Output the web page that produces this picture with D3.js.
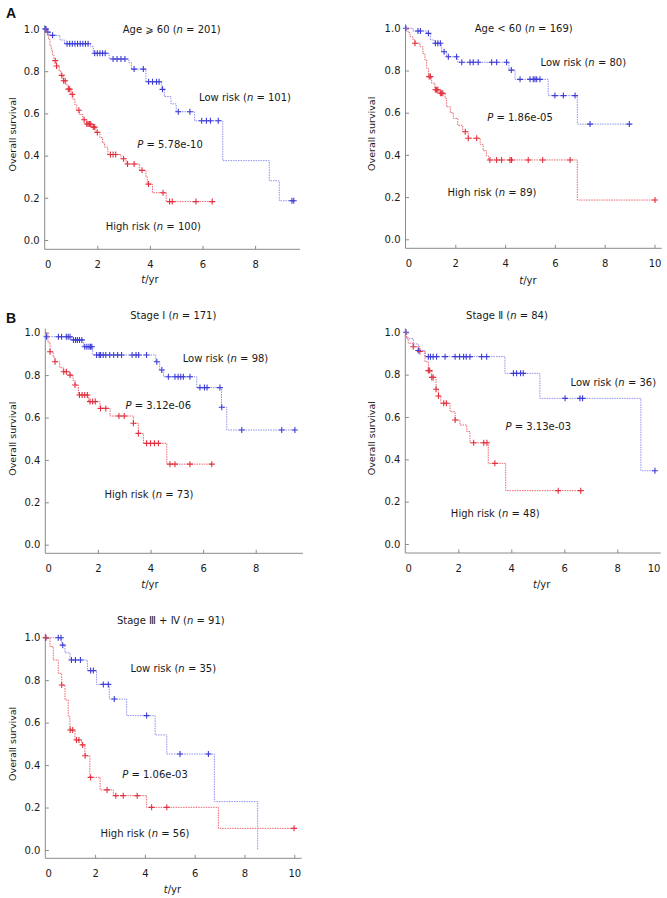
<!DOCTYPE html>
<html><head><meta charset="utf-8">
<script src="https://cdn.jsdelivr.net/npm/d3@7"></script>
<style>body{margin:0;background:#fff}</style>
</head><body>
<svg id="c" width="667" height="898"></svg>
<script>
// ---------------- DATA ----------------
const yTicks = [0, 0.2, 0.4, 0.6, 0.8, 1.0];
const xTicks8 = [0, 2, 4, 6, 8];
const xTicks10 = [0, 2, 4, 6, 8, 10];

const titles = ["Age ⩾ 60 (*n* = 201)", "Age < 60 (*n* = 169)", "Stage Ⅰ (*n* = 171)", "Stage Ⅱ (*n* = 84)", "Stage Ⅲ + Ⅳ (*n* = 91)"];
const lowLabels = ["Low risk (*n* = 101)", "Low risk (*n* = 80)", "Low risk (*n* = 98)", "Low risk (*n* = 36)", "Low risk (*n* = 35)"];
const highLabels = ["High risk (*n* = 100)", "High risk (*n* = 89)", "High risk (*n* = 73)", "High risk (*n* = 48)", "High risk (*n* = 56)"];
const pLabels = ["*P* = 5.78e-10", "*P* = 1.86e-05", "*P* = 3.12e-06", "*P* = 3.13e-03", "*P* = 1.06e-03"];

// steps: [time, survival after drop]; censored: times of "+" marks; end: last follow-up time
const p1LowSteps = [[0.08,0.985],[0.2,0.97],[0.58,0.948],[0.75,0.93],[1.75,0.916],[1.85,0.885],[2.45,0.858],[3.2,0.84],[3.3,0.81],[3.85,0.75],[4.45,0.714],[4.55,0.68],[4.8,0.645],[5.0,0.608],[5.7,0.565],[6.77,0.376],[8.54,0.281],[8.92,0.186]];
const p1LowCens = [0.02,0.05,0.12,0.3,0.85,0.95,1.05,1.15,1.25,1.35,1.45,1.55,1.65,1.9,2.0,2.1,2.2,2.3,2.6,2.75,2.9,3.05,3.4,3.75,3.95,4.1,4.25,4.35,4.48,5.08,5.52,5.97,6.15,6.3,6.6,9.4,9.47];
const p1LowEnd = 9.47;
const p1HighSteps = [[0.05,0.985],[0.1,0.97],[0.15,0.95],[0.2,0.92],[0.25,0.9],[0.3,0.875],[0.35,0.85],[0.45,0.825],[0.55,0.8],[0.62,0.78],[0.7,0.755],[0.8,0.735],[0.9,0.715],[1.0,0.69],[1.08,0.665],[1.15,0.64],[1.22,0.615],[1.32,0.595],[1.45,0.57],[1.6,0.55],[1.8,0.535],[1.95,0.51],[2.1,0.485],[2.2,0.46],[2.28,0.44],[2.4,0.405],[2.9,0.385],[3.1,0.36],[3.6,0.33],[3.85,0.3],[3.9,0.265],[4.1,0.224],[4.62,0.182]];
const p1HighCens = [0.4,0.45,0.65,0.72,0.78,0.9,0.95,1.05,1.3,1.5,1.6,1.65,1.7,1.75,1.85,1.9,2.0,2.5,2.6,2.7,3.0,3.15,3.4,3.7,3.95,4.5,4.75,4.85,5.75,6.37];
const p1HighEnd = 6.37;

const p2LowSteps = [[0.3,0.987],[0.85,0.976],[1.0,0.945],[1.15,0.929],[1.45,0.889],[1.65,0.865],[2.1,0.839],[4.15,0.802],[4.4,0.758],[5.73,0.681],[6.9,0.546]];
const p2LowCens = [0.02,0.5,0.6,0.92,1.2,1.3,1.4,1.55,1.72,2.05,2.26,2.59,2.72,2.92,3.46,3.66,4.06,4.25,4.6,5.0,5.13,5.2,5.27,5.4,6.0,6.34,6.81,7.41,8.99];
const p2LowEnd = 8.99;
const p2HighSteps = [[0.1,0.98],[0.18,0.96],[0.3,0.945],[0.38,0.929],[0.58,0.913],[0.7,0.88],[0.78,0.85],[0.85,0.81],[0.92,0.771],[1.05,0.74],[1.18,0.709],[1.39,0.692],[1.59,0.668],[1.65,0.628],[1.8,0.6],[1.92,0.573],[2.1,0.54],[2.3,0.51],[2.52,0.479],[3.0,0.45],[3.12,0.42],[3.25,0.395],[3.33,0.376],[6.9,0.186]];
const p2HighCens = [0.38,0.95,1.0,1.2,1.25,1.3,1.4,1.45,1.5,2.4,2.52,2.86,3.39,3.66,3.86,4.2,4.26,4.93,5.51,6.61,10.02];
const p2HighEnd = 10.02;

const p3LowSteps = [[0.03,0.981],[1.0,0.966],[1.45,0.934],[1.8,0.895],[4.2,0.863],[4.35,0.824],[4.5,0.792],[5.76,0.741],[6.7,0.648],[6.9,0.541]];
const p3LowCens = [0.05,0.5,0.62,0.8,0.87,0.94,1.07,1.15,1.22,1.3,1.39,1.5,1.58,1.66,1.72,1.77,1.95,2.05,2.1,2.2,2.3,2.45,2.6,2.75,2.9,3.3,3.45,3.55,3.85,4.24,4.43,4.68,4.93,5.05,5.15,5.25,5.5,5.88,6.05,6.15,6.64,6.71,7.47,8.99,9.49];
const p3LowEnd = 9.49;
const p3HighSteps = [[0.1,0.955],[0.18,0.91],[0.3,0.885],[0.37,0.863],[0.55,0.835],[0.68,0.816],[0.94,0.8],[1.05,0.775],[1.13,0.753],[1.26,0.706],[1.64,0.675],[2.08,0.643],[2.46,0.607],[3.35,0.573],[3.54,0.525],[3.73,0.478],[4.62,0.38]];
const p3HighCens = [0.18,0.37,0.7,0.8,0.94,1.13,1.3,1.4,1.5,1.6,1.7,1.8,1.9,2.1,2.3,2.8,3.0,3.35,3.54,3.85,4.0,4.15,4.3,4.74,4.93,5.5,6.33];
const p3HighEnd = 6.33;

const p4LowSteps = [[0.05,0.97],[0.3,0.945],[0.49,0.914],[0.75,0.885],[3.76,0.806],[5.08,0.688],[8.89,0.346]];
const p4LowCens = [0.03,0.49,0.87,0.95,1.05,1.18,1.5,1.88,2.05,2.2,2.3,2.44,2.88,3.07,4.08,4.2,4.35,4.45,6.03,6.59,6.69,9.42];
const p4LowEnd = 9.42;
const p4HighSteps = [[0.05,0.975],[0.11,0.948],[0.3,0.932],[0.55,0.909],[0.74,0.861],[0.87,0.819],[1.0,0.787],[1.16,0.731],[1.25,0.699],[1.34,0.665],[1.69,0.625],[1.88,0.586],[2.06,0.562],[2.32,0.531],[2.44,0.478],[3.13,0.381],[3.79,0.252]];
const p4HighCens = [0.3,0.55,0.87,0.92,1.0,1.05,1.16,1.25,1.45,1.55,1.88,2.58,2.96,3.08,3.38,5.77,6.62];
const p4HighEnd = 6.62;

const p5LowSteps = [[0.66,0.965],[0.79,0.929],[0.99,0.895],[1.69,0.845],[2.06,0.78],[2.57,0.711],[3.27,0.633],[4.41,0.542],[4.88,0.452],[6.79,0.228],[8.53,0]];
const p5LowCens = [0.02,0.52,0.63,0.7,1.05,1.21,1.41,1.82,1.93,2.33,2.53,2.77,4.07,5.41,6.55];
const p5LowEnd = 8.53;
const p5HighSteps = [[0.19,0.958],[0.32,0.895],[0.52,0.832],[0.66,0.777],[0.79,0.707],[0.92,0.628],[0.99,0.565],[1.19,0.518],[1.46,0.495],[1.59,0.444],[1.79,0.342],[2.2,0.283],[2.73,0.256],[4.07,0.201],[6.95,0.102]];
const p5HighCens = [0.02,0.66,1.0,1.1,1.25,1.35,1.5,1.6,1.82,2.48,2.83,3.13,3.69,4.27,4.88,9.99];
const p5HighEnd = 9.99;

// ---------------- LAYOUT ----------------
const FONT = "'DejaVu Sans', 'Noto Sans CJK SC', sans-serif";
const panels = [
  {i:0, low:[p1LowSteps,p1LowCens,p1LowEnd], high:[p1HighSteps,p1HighCens,p1HighEnd], x0:44.7, unit:26.3, xEnd:300, yTop:29, yBot:240, axisY:249.3, ticks:xTicks8, yLabX:12.5, xLab:[150,283], title:[171.7,33], lowPos:[245,101], pPos:[170,148], highPos:[153.3,230]},
  {i:1, low:[p2LowSteps,p2LowCens,p2LowEnd], high:[p2HighSteps,p2HighCens,p2HighEnd], x0:405.5, unit:24.9, xEnd:661.7, yTop:28.3, yBot:239.3, axisY:248.3, ticks:xTicks10, yLabX:372, xLab:[528,284], title:[523.7,32], lowPos:[583.3,65.5], pPos:[520,121], highPos:[492,195.5]},
  {i:2, low:[p3LowSteps,p3LowCens,p3LowEnd], high:[p3HighSteps,p3HighCens,p3HighEnd], x0:45.3, unit:26.3, xEnd:303, yTop:332.7, yBot:544.7, axisY:553.3, ticks:xTicks8, yLabX:12.5, xLab:[150,588], title:[173.3,319.3], lowPos:[225.5,362.3], pPos:[158.3,409], highPos:[149,498.3]},
  {i:3, low:[p4LowSteps,p4LowCens,p4LowEnd], high:[p4HighSteps,p4HighCens,p4HighEnd], x0:405.3, unit:26.5, xEnd:660.7, yTop:332.3, yBot:544, axisY:553, ticks:xTicks8, extra10:654, yLabX:372, xLab:[541.7,588], title:[507,319.3], lowPos:[613.3,385.7], pPos:[538.3,430], highPos:[495.3,516.7]},
  {i:4, low:[p5LowSteps,p5LowCens,p5LowEnd], high:[p5HighSteps,p5HighCens,p5HighEnd], x0:45.3, unit:24.9, xEnd:301.7, yTop:637.7, yBot:850, axisY:858.3, ticks:xTicks10, yLabX:12.5, xLab:[172.5,893], title:[170.8,624], lowPos:[173.3,672], pPos:[155,778.3], highPos:[145,836.7]}
];

const BLUE_LINE = "#8f8fef", BLUE_MARK = "#3d3dd6";
const RED_LINE = "#e9646f", RED_MARK = "#e2323f";
const AXIS = "#8a8a8a";

const svg = d3.select("#c");

function richText(g, str, x, y, opts = {}) {
  const t = g.append("text").attr("x", x).attr("y", y)
    .attr("font-family", FONT).attr("font-size", opts.size || 10)
    .attr("fill", "#1a1a1a").attr("text-anchor", opts.anchor || "middle");
  str.split("*").forEach((part, k) => {
    if (!part) return;
    const s = t.append("tspan").text(part);
    if (k % 2 === 1) s.attr("font-style", "italic");
  });
  return t;
}

function survAt(steps, t) {
  let s = 1;
  for (const [tt, v] of steps) { if (tt <= t) s = v; else break; }
  return s;
}

panels.forEach(P => {
  const xMax = (P.xEnd - P.x0) / P.unit;
  const x = d3.scaleLinear().domain([0, xMax]).range([P.x0, P.xEnd]);
  const y = d3.scaleLinear().domain([0, 1]).range([P.yBot, P.yTop]);
  const g = svg.append("g");

  // axes
  const ya = d3.axisLeft(y).tickValues(yTicks).tickFormat(d3.format(".1f")).tickSizeInner(-3.5).tickSizeOuter(0).tickPadding(5);
  const yg = g.append("g").attr("transform", `translate(${P.x0},0)`).call(ya);
  yg.select(".domain").remove();
  yg.selectAll(".tick line").attr("stroke", AXIS);
  yg.selectAll(".tick text").attr("font-family", FONT).attr("font-size", 10).attr("fill", "#1a1a1a");

  const xa = d3.axisBottom(x).tickValues(P.ticks).tickFormat(d3.format("d")).tickSizeInner(-3.5).tickSizeOuter(0).tickPadding(11.5);
  const xg = g.append("g").attr("transform", `translate(0,${P.axisY})`).call(xa);
  xg.select(".domain").remove();
  xg.selectAll(".tick line").attr("stroke", AXIS).attr("opacity", d => d === 0 ? 0 : 1);
  xg.selectAll(".tick text").attr("font-family", FONT).attr("font-size", 10).attr("fill", "#1a1a1a")
    .attr("dx", d => d === 0 ? 3 : 0);
  if (P.extra10) {
    xg.append("text").attr("x", P.extra10).attr("y", 11.5).attr("dy", "0.71em")
      .attr("text-anchor", "middle").attr("font-family", FONT).attr("font-size", 10).attr("fill", "#1a1a1a").text("10");
  }
  g.append("line").attr("x1", P.x0).attr("x2", P.x0).attr("y1", P.yTop - 4).attr("y2", P.axisY).attr("stroke", AXIS);
  g.append("line").attr("x1", P.x0).attr("x2", P.xEnd).attr("y1", P.axisY).attr("y2", P.axisY).attr("stroke", AXIS);

  // axis labels
  g.append("text").attr("transform", `translate(${P.yLabX},${(P.yTop + P.yBot) / 2}) rotate(-90)`)
    .attr("text-anchor", "middle").attr("dy", "0.35em").attr("font-family", FONT).attr("font-size", 9.5)
    .attr("fill", "#1a1a1a").text("Overall survival");
  richText(g, "*t*/yr", P.xLab[0], P.xLab[1]);

  // curves
  function curve(data, lineColor, markColor) {
    const [steps, cens, end] = data;
    let d = `M${x(0)},${y(1)}`;
    let prev = 1;
    steps.forEach(([t, s]) => { d += `H${x(t)}V${y(s)}`; prev = s; });
    d += `H${x(end)}`;
    g.append("path").attr("d", d).attr("fill", "none").attr("stroke", lineColor)
      .attr("stroke-width", 1).attr("stroke-dasharray", "1.5,1");
    g.selectAll(null).data(cens).enter().append("path")
      .attr("d", t => { const cx = x(t), cy = y(survAt(steps, t)); return `M${cx-3},${cy}H${cx+3}M${cx},${cy-3}V${cy+3}`; })
      .attr("stroke", markColor).attr("stroke-width", 1.1).attr("fill", "none");
  }
  curve(P.low, BLUE_LINE, BLUE_MARK);
  curve(P.high, RED_LINE, RED_MARK);

  // text annotations
  richText(g, titles[P.i], P.title[0], P.title[1]);
  richText(g, lowLabels[P.i], P.lowPos[0], P.lowPos[1]);
  richText(g, pLabels[P.i], P.pPos[0], P.pPos[1]);
  richText(g, highLabels[P.i], P.highPos[0], P.highPos[1]);
});

// panel letters
svg.append("text").attr("x", 6).attr("y", 18).attr("font-family", "'Liberation Sans', Arial, sans-serif")
  .attr("font-weight", "bold").attr("font-size", 14).attr("fill", "#111").text("A");
svg.append("text").attr("x", 6).attr("y", 323).attr("font-family", "'Liberation Sans', Arial, sans-serif")
  .attr("font-weight", "bold").attr("font-size", 14).attr("fill", "#111").text("B");
</script>
</body></html>
